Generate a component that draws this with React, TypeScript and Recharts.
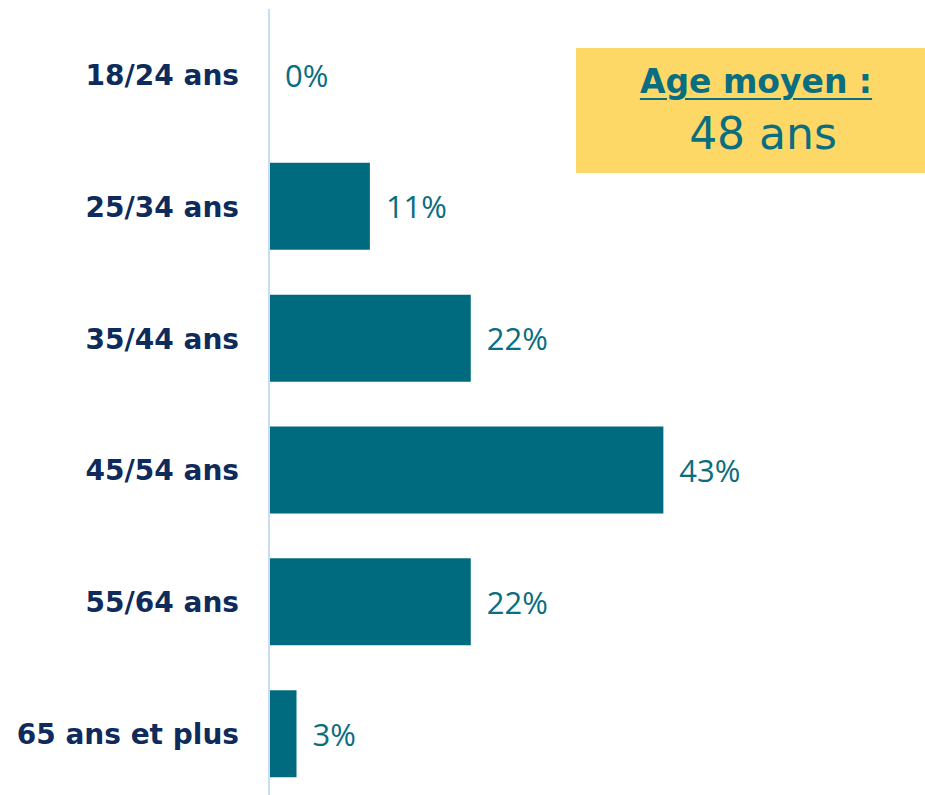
import React from "react";
import { BarChart, Bar, XAxis, YAxis, LabelList } from "recharts";

const categories = [
  "18/24 ans",
  "25/34 ans",
  "35/44 ans",
  "45/54 ans",
  "55/64 ans",
  "65 ans et plus",
];
const shares = [0, 11, 22, 43, 22, 3];
const averageTitle = "Age moyen :";
const averageAge = "48 ans";

const data = categories.map((name, i) => ({ name, value: shares[i] }));

const LABEL_FONT = "'DejaVu Sans', sans-serif";
const VALUE_FONT = "'Open Sans', 'DejaVu Sans', sans-serif";

// étiquette de valeur, dessinée aussi pour les barres à 0
const ValueLabel = (props: any) => {
  const { x, y, width, height, value } = props;
  const w = Number(value) === 0 ? 0 : Number(width || 0);
  return (
    <text
      x={Number(x) + w + 16}
      y={Number(y) + Number(height) / 2}
      dominantBaseline="central"
      fill="#0a6d80"
      fontSize={31}
      fontWeight={500}
      fontFamily={VALUE_FONT}
    >
      {`${value}%`}
    </text>
  );
};

const App: React.FC = () => {
  return (
    <div
      style={{
        position: "fixed",
        left: 0,
        top: 0,
        width: 925,
        height: 795,
        overflow: "hidden",
        background: "#ffffff",
      }}
    >
      <BarChart
        width={925}
        height={800}
        data={data}
        layout="vertical"
        margin={{ top: 9, right: 14, left: 0, bottom: 0 }}
        barSize={87}
      >
        <XAxis type="number" domain={[0, 70]} hide />
        <YAxis
          type="category"
          dataKey="name"
          width={269}
          axisLine={{ stroke: "#c9dcf5", strokeWidth: 2 }}
          tickLine={false}
          tickSize={0}
          tickMargin={30}
          tick={{
            fill: "#0e2b5c",
            fontSize: 28,
            fontWeight: 700,
            fontFamily: LABEL_FONT,
          }}
        />
        <Bar
          dataKey="value"
          fill="#006b7f"
          minPointSize={(v: number) => (v === 0 ? 0.01 : 0)}
          isAnimationActive={false}
        >
          <LabelList dataKey="value" content={ValueLabel} />
        </Bar>
      </BarChart>

      {/* encadré âge moyen */}
      <div
        style={{
          position: "absolute",
          left: 576,
          top: 48,
          width: 349,
          height: 125,
          background: "#fdd866",
        }}
      />
      <div
        style={{
          position: "absolute",
          left: 556,
          top: 63,
          width: 400,
          textAlign: "center",
          color: "#0a6d80",
          fontFamily: LABEL_FONT,
          fontSize: 33,
          fontWeight: 700,
          lineHeight: "38px",
        }}
      >
        <span
          style={{
            textDecoration: "underline",
            textUnderlineOffset: 5,
            textDecorationThickness: 2,
          }}
        >
          {averageTitle}
        </span>
      </div>
      <div
        style={{
          position: "absolute",
          left: 563,
          top: 108,
          width: 400,
          textAlign: "center",
          color: "#0a6d80",
          fontFamily: LABEL_FONT,
          fontSize: 44,
          fontWeight: 400,
          lineHeight: "52px",
        }}
      >
        {averageAge}
      </div>
    </div>
  );
};

export default App;
